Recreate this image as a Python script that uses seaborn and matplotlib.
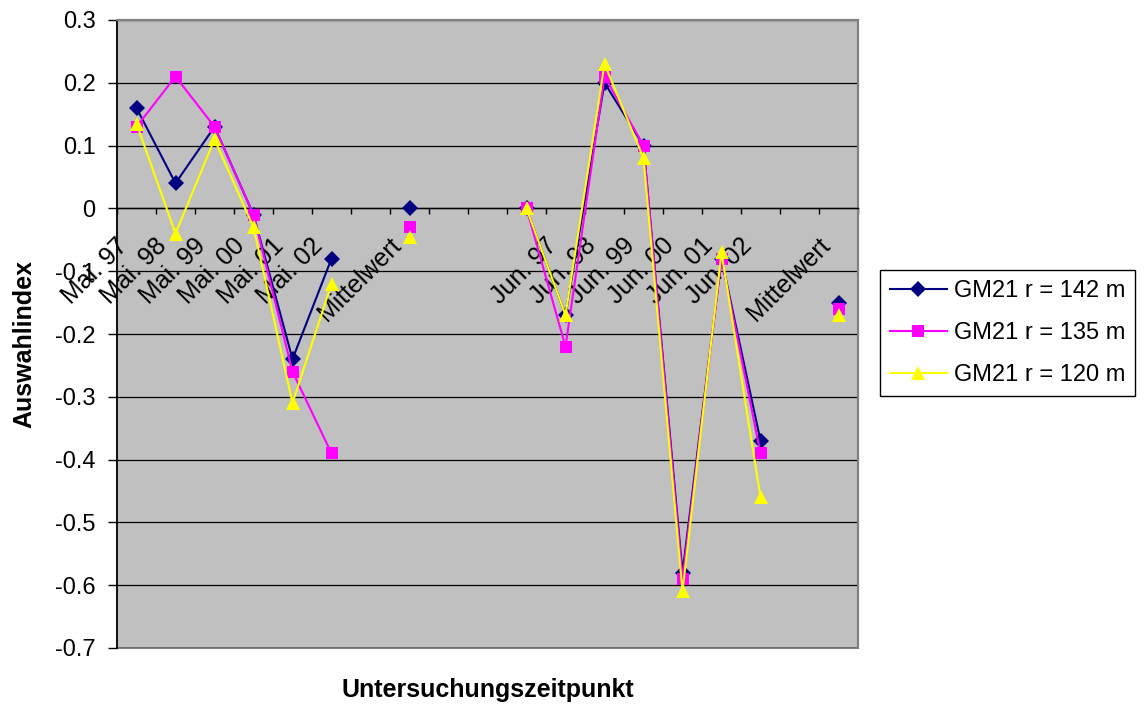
import numpy as np
import pandas as pd
import matplotlib
matplotlib.use("Agg")
import matplotlib.pyplot as plt
from matplotlib.transforms import ScaledTranslation
import seaborn as sns

nan = np.nan

# Category axis (blank entries are spacer slots between the two survey months)
categories = ["Mai. 97", "Mai. 98", "Mai. 99", "Mai. 00", "Mai. 01", "Mai. 02", "",
              "Mittelwert", "", "", "",
              "Jun. 97", "Jun. 98", "Jun. 99", "Jun. 00", "Jun. 01", "Jun. 02", "",
              "Mittelwert"]

# Auswahlindex per radius
r142 = [0.16, 0.04, 0.13, -0.01, -0.24, -0.08, nan, 0.0, nan, nan,
        0.0, -0.17, 0.20, 0.10, -0.58, -0.08, -0.37, nan, -0.15]
r135 = [0.13, 0.21, 0.13, -0.01, -0.26, -0.39, nan, -0.03, nan, nan,
        0.0, -0.22, 0.21, 0.10, -0.59, -0.08, -0.39, nan, -0.16]
r120 = [0.135, -0.04, 0.11, -0.03, -0.31, -0.12, nan, -0.045, nan, nan,
        0.0, -0.17, 0.23, 0.08, -0.61, -0.07, -0.46, nan, -0.17]

series_names = ["GM21 r = 142 m", "GM21 r = 135 m", "GM21 r = 120 m"]
series_colors = ["#000080", "#FF00FF", "#FFFF00"]
series_markers = ["D", "s", "^"]
marker_sizes = {"D": 8.0, "s": 8.5, "^": 10.0}

y_ticks = [0.3, 0.2, 0.1, 0.0, -0.1, -0.2, -0.3, -0.4, -0.5, -0.6, -0.7]

# Long-form table; gaps split each series into separate connected blocks
rows = []
for name, vals in zip(series_names, [r142, r135, r120]):
    block, gap = 0, True
    for pos, v in enumerate(vals):
        if np.isnan(v):
            gap = True
            continue
        if gap:
            block += 1
            gap = False
        rows.append({"pos": pos, "value": v, "series": name, "block": block})
df = pd.DataFrame(rows)

plt.rcParams["font.family"] = ["Liberation Sans", "DejaVu Sans"]
plt.rcParams["axes.unicode_minus"] = False
FS = 17
FS_CAT = 18
FS_TITLE = 18

W, H = 1148, 707
fig = plt.figure(figsize=(W / 100, H / 100), dpi=100)
fig.patch.set_facecolor("white")
L, R, T, B = 117, 858, 20, 648
ax = fig.add_axes([L / W, 1 - B / H, (R - L) / W, (B - T) / H])
ax.set_facecolor("#C0C0C0")

sns.lineplot(data=df, x="pos", y="value", hue="series", style="series",
             units="block", estimator=None, sort=False,
             hue_order=series_names, style_order=series_names,
             palette=dict(zip(series_names, series_colors)),
             markers=dict(zip(series_names, series_markers)), dashes=False,
             linewidth=1.5, markeredgewidth=0, ax=ax, zorder=3)

for ln in ax.lines:
    m = ln.get_marker()
    if m in marker_sizes:
        ln.set_markersize(marker_sizes[m])
        ln.set_markeredgewidth(0)

ax.set_xlim(-0.5, 18.5)
ax.set_ylim(-0.7, 0.3)

# y axis
ax.set_yticks(y_ticks)
ax.set_yticklabels([f"{v:g}" for v in y_ticks], fontsize=FS)
ax.tick_params(axis="y", length=6.5, width=1, pad=9, direction="out", colors="black")
ax.yaxis.grid(True, color="black", linewidth=0.9, zorder=1)
ax.set_axisbelow(True)

# category axis crossing at zero
ax.spines["bottom"].set_position(("data", 0))
ax.spines["bottom"].set_color("black")
ax.spines["bottom"].set_linewidth(1.0)
ax.spines["left"].set_color("black")
ax.spines["left"].set_linewidth(1.2)
for s in ("top", "right"):
    ax.spines[s].set_color("#808080")
    ax.spines[s].set_linewidth(1.5)
ax.patch.set_edgecolor("#808080")
ax.patch.set_linewidth(1.5)

ax.set_xticks(range(len(categories)))
ax.set_xticklabels(categories, fontsize=FS_CAT, rotation=45, ha="right", va="top",
                   rotation_mode="anchor")
ax.set_xticks(np.arange(-0.5, len(categories), 1.0), minor=True)
ax.tick_params(axis="x", which="major", length=0, pad=18)
ax.tick_params(axis="x", which="minor", length=4.5, width=1, direction="out", colors="black")
shift = ScaledTranslation(-21 / 100, 0, fig.dpi_scale_trans)
for lbl in ax.get_xticklabels():
    lbl.set_transform(lbl.get_transform() + shift)

# axis titles
ax.set_ylabel("Auswahlindex", fontsize=FS_TITLE, fontweight="bold")
ax.yaxis.set_label_coords((24 - L) / (R - L), (B - 344) / (B - T))
ax.yaxis.label.set_va("center")
ax.set_xlabel("Untersuchungszeitpunkt", fontsize=FS_TITLE, fontweight="bold")
ax.xaxis.set_label_coords(0.5, (B - 690) / (B - T))
ax.xaxis.label.set_va("center")

# legend box on the right
handles, labels = ax.get_legend_handles_labels()
if ax.get_legend() is not None:
    ax.get_legend().remove()
leg = ax.legend(handles, labels, loc="upper left",
                bbox_to_anchor=(880 / W, 1 - 270 / H), bbox_transform=fig.transFigure,
                frameon=True, fancybox=False, edgecolor="black", framealpha=1,
                borderaxespad=0, handlelength=2.4, handletextpad=0.3,
                labelspacing=0.85, borderpad=0.42, fontsize=FS)
leg.get_frame().set_linewidth(1.0)
for h in leg.legend_handles:
    m = h.get_marker()
    if m in marker_sizes:
        h.set_markersize(marker_sizes[m])
        h.set_markeredgewidth(0)
    h.set_linewidth(1.5)

fig.savefig("out.png", dpi=100, facecolor="white")
